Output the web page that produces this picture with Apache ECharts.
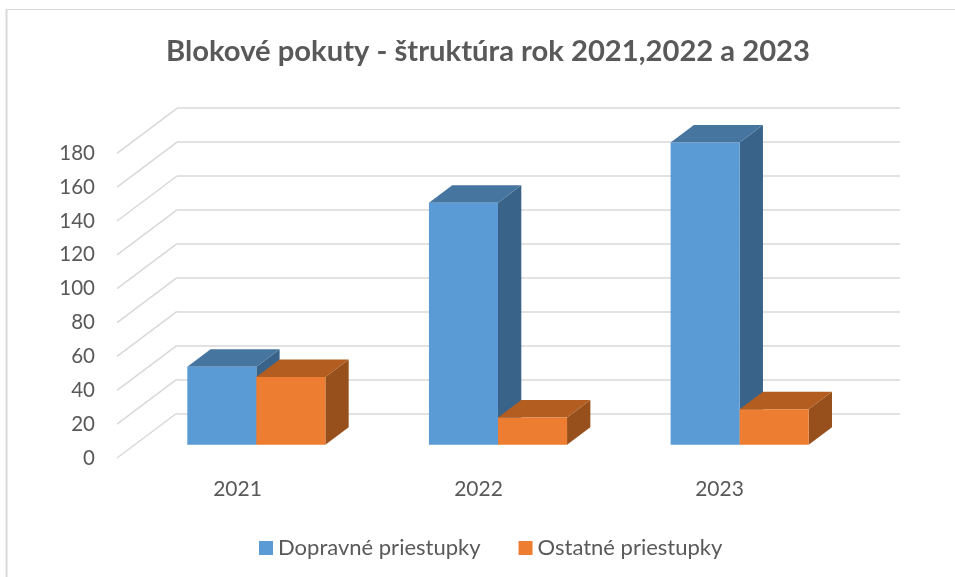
<!DOCTYPE html>
<html>
<head>
<meta charset="utf-8">
<style>
  html, body { margin: 0; padding: 0; background: #fff; }
  #chart { width: 955px; height: 577px; }
</style>
<script src="https://cdn.jsdelivr.net/npm/echarts@6/dist/echarts.min.js"></script>
</head>
<body>
<div id="chart"></div>
<script>
var categories = ['2021', '2022', '2023'];
var dopravne = [46, 143, 178.5];
var ostatne = [40, 16, 21];
var yTicks = [0, 20, 40, 60, 80, 100, 120, 140, 160, 180];

var textColor = '#595959';
var gridColor = '#d9d9d9';
var fontName = 'Lato';

// depth of the floor and of one bar, in pixels
var wallDx = 60, wallDy = -45;
var barDx = 23.3, barDy = -17.5;
var barShare = 0.2857;

function renderDiagonal(params, api) {
  var p = api.coord([0, api.value(0)]);
  var x = params.coordSys.x;
  return {
    type: 'line',
    shape: { x1: x, y1: p[1], x2: x + wallDx, y2: p[1] + wallDy },
    style: { stroke: gridColor, lineWidth: 1.5 }
  };
}

function makeBarRenderer(front, top, side, side2) {
  return function (params, api) {
    var base = api.coord([api.value(0), 0]);
    var head = api.coord([api.value(0), api.value(1)]);
    var w = api.size([1, 0])[0] * barShare;
    var x0 = base[0] + side2 * w;
    var x1 = x0 + w;
    var y0 = base[1];
    var y1 = head[1];
    return {
      type: 'group',
      children: [
        { type: 'polygon', shape: { points: [[x1, y1], [x1 + barDx, y1 + barDy], [x1 + barDx, y0 + barDy], [x1, y0]] }, style: { fill: side } },
        { type: 'polygon', shape: { points: [[x0, y1], [x0 + barDx, y1 + barDy], [x1 + barDx, y1 + barDy], [x1, y1]] }, style: { fill: top } },
        { type: 'rect', shape: { x: x0, y: y1, width: w, height: y0 - y1 }, style: { fill: front } }
      ]
    };
  };
}

var myChart = echarts.init(document.getElementById('chart'));
var option;

option = {
  animation: false,
  backgroundColor: '#fff',
  title: {
    text: 'Blokové pokuty - štruktúra rok 2021,2022 a 2023',
    left: 161,
    top: 32,
    textStyle: { fontFamily: fontName, fontSize: 29.2, fontWeight: 'bold', color: textColor }
  },
  legend: {
    left: 254,
    top: 532,
    itemWidth: 14,
    itemHeight: 14,
    itemGap: 38,
    icon: 'rect',
    data: ['Dopravné priestupky', 'Ostatné priestupky'],
    textStyle: { fontFamily: fontName, fontSize: 22, color: textColor }
  },
  graphic: [
    { type: 'line', shape: { x1: 6, y1: 9.5, x2: 955, y2: 9.5 }, style: { stroke: gridColor, lineWidth: 1 } },
    { type: 'line', shape: { x1: 6.5, y1: 9, x2: 6.5, y2: 577 }, style: { stroke: gridColor, lineWidth: 2 } }
  ],
  grid: [
    { left: 117, right: 115, top: 153.3, bottom: 119 },
    { left: 177, right: 55, top: 108, bottom: 163.7 },
    { left: 135.5, right: 94.5, top: 140, bottom: 132.3 }
  ],
  xAxis: [
    {
      type: 'category',
      gridIndex: 0,
      data: categories,
      axisLine: { show: false },
      axisTick: { show: false },
      axisLabel: { margin: 21, fontFamily: fontName, fontSize: 21, color: textColor }
    },
    { type: 'category', gridIndex: 1, data: categories, show: false },
    { type: 'category', gridIndex: 2, data: categories, show: false }
  ],
  yAxis: [
    {
      type: 'value',
      gridIndex: 0,
      min: 0,
      max: 180,
      interval: 20,
      axisLine: { show: false },
      axisTick: { show: false },
      splitLine: { show: false },
      axisLabel: { margin: 22, fontFamily: fontName, fontSize: 20.5, color: textColor, padding: [4, 0, 0, 0] }
    },
    {
      type: 'value',
      gridIndex: 1,
      min: 0,
      max: 180,
      interval: 20,
      axisLine: { show: false },
      axisTick: { show: false },
      axisLabel: { show: false },
      splitLine: { show: true, lineStyle: { color: gridColor, width: 1.5 } }
    },
    { type: 'value', gridIndex: 2, min: 0, max: 180, show: false }
  ],
  series: [
    {
      type: 'custom',
      xAxisIndex: 0,
      yAxisIndex: 0,
      silent: true,
      renderItem: renderDiagonal,
      encode: { y: 0 },
      data: yTicks.map(function (v) { return [v]; })
    },
    {
      name: 'Dopravné priestupky',
      type: 'custom',
      xAxisIndex: 2,
      yAxisIndex: 2,
      itemStyle: { color: '#5b9bd5' },
      renderItem: makeBarRenderer('#5b9bd5', '#4675a0', '#3a6389', -1),
      encode: { x: 0, y: 1 },
      data: dopravne.map(function (v, i) { return [i, v]; })
    },
    {
      name: 'Ostatné priestupky',
      type: 'custom',
      xAxisIndex: 2,
      yAxisIndex: 2,
      itemStyle: { color: '#ed7d31' },
      renderItem: makeBarRenderer('#ed7d31', '#b35e20', '#97501b', 0),
      encode: { x: 0, y: 1 },
      data: ostatne.map(function (v, i) { return [i, v]; })
    }
  ]
};

option && myChart.setOption(option);
</script>
</body>
</html>
